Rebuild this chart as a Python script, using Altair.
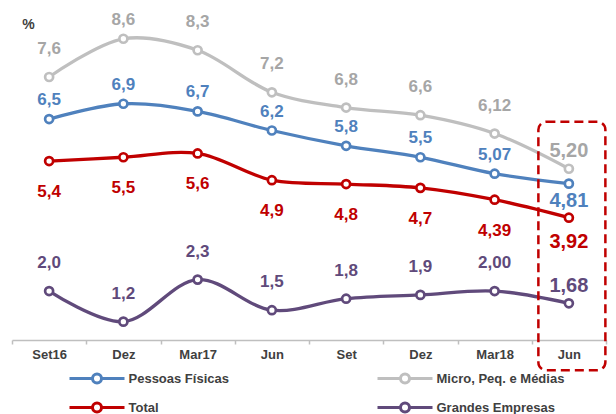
import json
import altair as alt
import pandas as pd

# ---------------- data ----------------
periods = ["Set16", "Dez16", "Mar17", "Jun17", "Set17", "Dez17", "Mar18", "Jun18"]
tick_labels = ["Set16", "Dez", "Mar17", "Jun", "Set", "Dez", "Mar18", "Jun"]
decimals = [1, 1, 1, 1, 1, 1, 2, 2]

series_names = ["Pessoas Físicas", "Total", "Micro, Peq. e Médias", "Grandes Empresas"]
pessoas_fisicas = [6.5, 6.9, 6.7, 6.2, 5.8, 5.5, 5.07, 4.81]
total = [5.4, 5.5, 5.6, 4.9, 4.8, 4.7, 4.39, 3.92]
micro_peq_medias = [7.6, 8.6, 8.3, 7.2, 6.8, 6.6, 6.12, 5.20]
grandes_empresas = [2.0, 1.2, 2.3, 1.5, 1.8, 1.9, 2.00, 1.68]

highlight_period = "Jun18"
highlight_range = [-0.07, 6.43]

# ---------------- styles ----------------
FONT = "Liberation Sans"
line_colors = ["#4F81BD", "#C00000", "#BFBFBF", "#604A7B"]
label_colors = ["#4F81BD", "#C00000", "#A6A6A6", "#604A7B"]
label_dy = [-19, 31, -28, -28]
last_dy = [17, 24, -18, -17]
top_dy = -19

all_values = [pessoas_fisicas, total, micro_peq_medias, grandes_empresas]
rows = []
for name, vals in zip(series_names, all_values):
    for p, v, d in zip(periods, vals, decimals):
        rows.append({"period": p, "series": name, "value": v,
                     "label": f"{v:.{d}f}".replace(".", ",")})
df = pd.DataFrame(rows)
max_value = max(max(v) for v in all_values)

box_df = pd.DataFrame([{"period": highlight_period,
                        "y0": highlight_range[0], "y1": highlight_range[1]}])

label_expr = f"{json.dumps(tick_labels)}[indexof({json.dumps(periods)}, datum.value)]"

x_enc = alt.X(
    "period:N",
    sort=periods,
    scale=alt.Scale(type="band", domain=periods, paddingInner=0, paddingOuter=0),
    axis=alt.Axis(
        title=None, labelAngle=0, labelFont=FONT, labelFontSize=13,
        labelFontWeight="bold", labelColor="#404040", labelPadding=4,
        tickSize=4, tickColor="#BFBFBF", tickWidth=1.5,
        domainColor="#BFBFBF", domainWidth=1.5, grid=False,
        tickBand="extent", labelExpr=label_expr,
    ),
)
y_enc = alt.Y(
    "value:Q",
    scale=alt.Scale(domain=[0.72, 9.3], nice=False, zero=False),
    axis=alt.Axis(
        title="%", titleAngle=0, titleX=16, titleY=12, titleAlign="center",
        titleBaseline="middle", titleFont=FONT, titleFontSize=14,
        titleFontWeight="bold", titleColor="#404040",
        labels=False, ticks=False, domain=False, grid=False,
    ),
)

legend_path = "M-1.3,0H3.3M5.1,0H9.7M5.1,0A0.9,0.9,0,1,1,3.3,0A0.9,0.9,0,1,1,5.1,0Z"

base = alt.Chart(df)

lines = base.mark_line(interpolate="catmull-rom", strokeWidth=3.3).encode(
    x=x_enc,
    y=y_enc,
    color=alt.Color(
        "series:N",
        title=None,
        scale=alt.Scale(domain=series_names, range=line_colors),
        legend=alt.Legend(
            orient="none", legendX=57.5, legendY=359.5, columns=2,
            columnPadding=142, rowPadding=6.5, padding=0,
            symbolType=legend_path, symbolSize=100, symbolStrokeWidth=3,
            symbolFillColor="white", labelOffset=46,
            labelFont=FONT, labelFontSize=13, labelFontWeight="bold",
            labelColor="#404040",
        ),
    ),
)

points = base.mark_circle(fill="white", strokeWidth=2.7, size=64, opacity=1).encode(
    x=alt.X("period:N", sort=periods),
    y="value:Q",
    stroke=alt.Stroke("series:N",
                      scale=alt.Scale(domain=series_names, range=line_colors),
                      legend=None),
)

layers = [lines, points]
for name, lc, dy, dyl in zip(series_names, label_colors, label_dy, last_dy):
    normal = base.transform_filter(
        (alt.datum.series == name) & (alt.datum.period != periods[-1])
        & (alt.datum.value != max_value)
    ).mark_text(font=FONT, fontSize=17, fontWeight="bold", color=lc,
                dy=dy, align="center", baseline="middle").encode(
        x=alt.X("period:N", sort=periods), y="value:Q", text="label:N")
    top = base.transform_filter(
        (alt.datum.series == name) & (alt.datum.value == max_value)
    ).mark_text(font=FONT, fontSize=17, fontWeight="bold", color=lc,
                dy=top_dy, align="center", baseline="middle").encode(
        x=alt.X("period:N", sort=periods), y="value:Q", text="label:N")
    last = base.transform_filter(
        (alt.datum.series == name) & (alt.datum.period == periods[-1])
    ).mark_text(font=FONT, fontSize=20, fontWeight="bold", color=lc,
                dy=dyl, align="center", baseline="middle").encode(
        x=alt.X("period:N", sort=periods), y="value:Q", text="label:N")
    layers += [normal, top, last]

box = alt.Chart(box_df).mark_rect(
    filled=False, stroke="#C00000", strokeWidth=2.5, strokeDash=[9, 5],
    cornerRadius=8, xOffset=3, width=67, clip=False,
).encode(
    x=alt.X("period:N", sort=periods),
    y="y0:Q",
    y2="y1:Q",
)
layers.append(box)

chart = alt.layer(*layers).properties(
    width=594, height=328,
    padding={"left": 4, "top": 4, "right": 2, "bottom": 74},
    autosize=alt.AutoSizeParams(type="none"),
).configure_view(strokeOpacity=0).resolve_scale(color="independent")

chart.save("out.html", embed_options={"renderer": "svg", "actions": False})
